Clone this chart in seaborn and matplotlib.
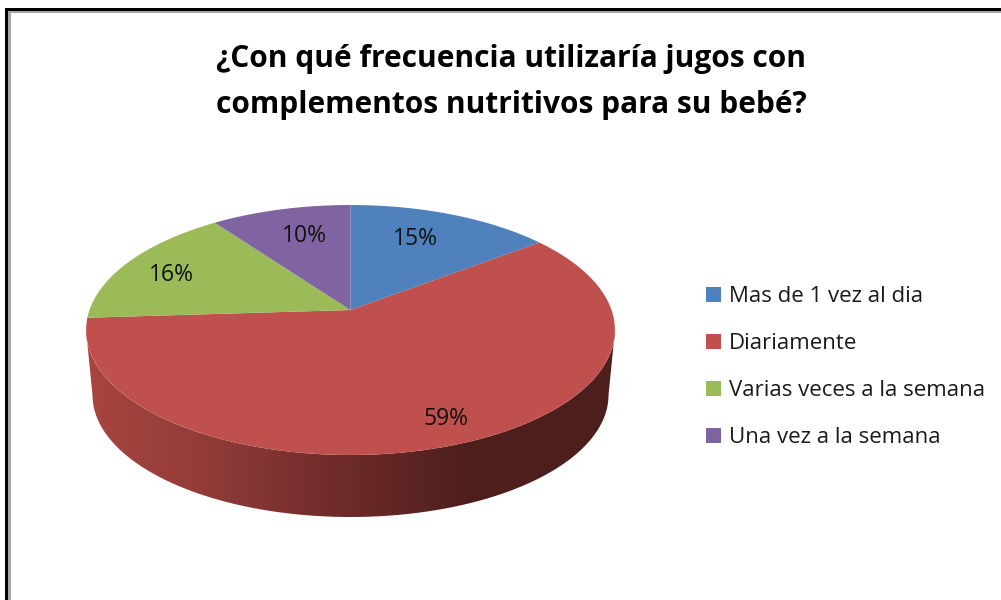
import numpy as np
import matplotlib
matplotlib.use('Agg')
import matplotlib.pyplot as plt
from matplotlib.colors import LinearSegmentedColormap
from matplotlib.patches import Rectangle, Polygon
import seaborn as sns

# Data
categories = ['Mas de 1 vez al dia', 'Diariamente', 'Varias veces a la semana', 'Una vez a la semana']
shares = [14.6, 59.4, 16.0, 10.0]
slice_colors = ['#4F81BD', '#C0504D', '#9BBB59', '#8064A2']
title_lines = ['¿Con qué frecuencia utilizaría jugos con', 'complementos nutritivos para su bebé?']

sns.set_style('white')
plt.rcParams['font.family'] = ['Open Sans', 'DejaVu Sans']
palette = sns.color_palette(slice_colors)

fig = plt.figure(figsize=(10.01, 6), dpi=100)
ax = fig.add_axes([0, 0, 1, 1])


def disc_to_px(u, v):
    # perspective view of the unit disc, the apex sits above the ellipse centre
    d = 1 + 0.16 * v
    return 350.5 + 261 * u / d, 330 - (125 * v + 20) / d


def ellipse_arc(cx, cy, rx, ry, t):
    return cx + rx * np.cos(t), cy + ry * np.sin(t)


# Side wall, lower half only
t = np.linspace(0, np.pi, 200)
x_top, y_top = ellipse_arc(350.5, 330, 264.5, 125, t)
x_bot, y_bot = ellipse_arc(350.5, 395, 258, 122, t)
wall = Polygon(np.column_stack([np.r_[x_top, x_bot[::-1]], np.r_[y_top, y_bot[::-1]]]),
               closed=True, facecolor='none', edgecolor='none')
ax.add_patch(wall)
wall_cmap = LinearSegmentedColormap.from_list(
    'wall', [(0, '#A8453F'), (0.22, '#923C39'), (0.5, '#6C2A28'), (0.72, '#4E1F1D'), (1, '#4C1E1C')])
im = ax.imshow(np.linspace(0, 1, 256)[None, :], cmap=wall_cmap, extent=(86, 615, 520, 320),
               aspect='auto', zorder=1)
im.set_clip_path(wall)

# Top face
edges = np.r_[0, np.cumsum(shares)] / np.sum(shares) * 2 * np.pi
for i, cat in enumerate(categories):
    a = np.linspace(edges[i], edges[i + 1], 150)
    px, py = disc_to_px(np.sin(a), np.cos(a))
    cx, cy = disc_to_px(0, 0)
    ax.fill(np.r_[cx, px], np.r_[cy, py], color=palette[i], lw=0, zorder=2, label=cat)

# Percent labels
label_pos = [(415, 239), (446, 419), (171, 275), (304, 236)]
for (lx, ly), val in zip(label_pos, shares):
    ax.text(lx, ly, '%.0f%%' % val, ha='center', va='center', fontsize=16.5, color='#111111', zorder=3)

# Title
for line, ty in zip(title_lines, [59, 105]):
    ax.text(511, ty, line, ha='center', va='center', fontsize=21.5, fontweight='bold', color='black')

# Legend
handles, labels = ax.get_legend_handles_labels()
ax.legend(handles, labels, loc='upper left', bbox_to_anchor=(706, 286), bbox_transform=ax.transData,
          frameon=False, fontsize=16, handlelength=0.68, handleheight=0.68, handletextpad=0.34,
          labelspacing=1.17, borderpad=0, borderaxespad=0, labelcolor='#1a1a1a')

# Frame of the pasted picture, open on the right and at the bottom
ax.add_patch(Rectangle((5, 8), 3, 592, color='black', lw=0, zorder=5))
ax.add_patch(Rectangle((5, 8), 996, 3, color='black', lw=0, zorder=5))
ax.add_patch(Rectangle((8, 11), 3, 589, color='#A6A6A6', lw=0, zorder=4))
ax.add_patch(Rectangle((8, 11), 993, 2, color='#A6A6A6', lw=0, zorder=4))

ax.set_xlim(0, 1001)
ax.set_ylim(600, 0)
ax.axis('off')
fig.savefig('out.png', dpi=100, facecolor='white')
plt.close()
